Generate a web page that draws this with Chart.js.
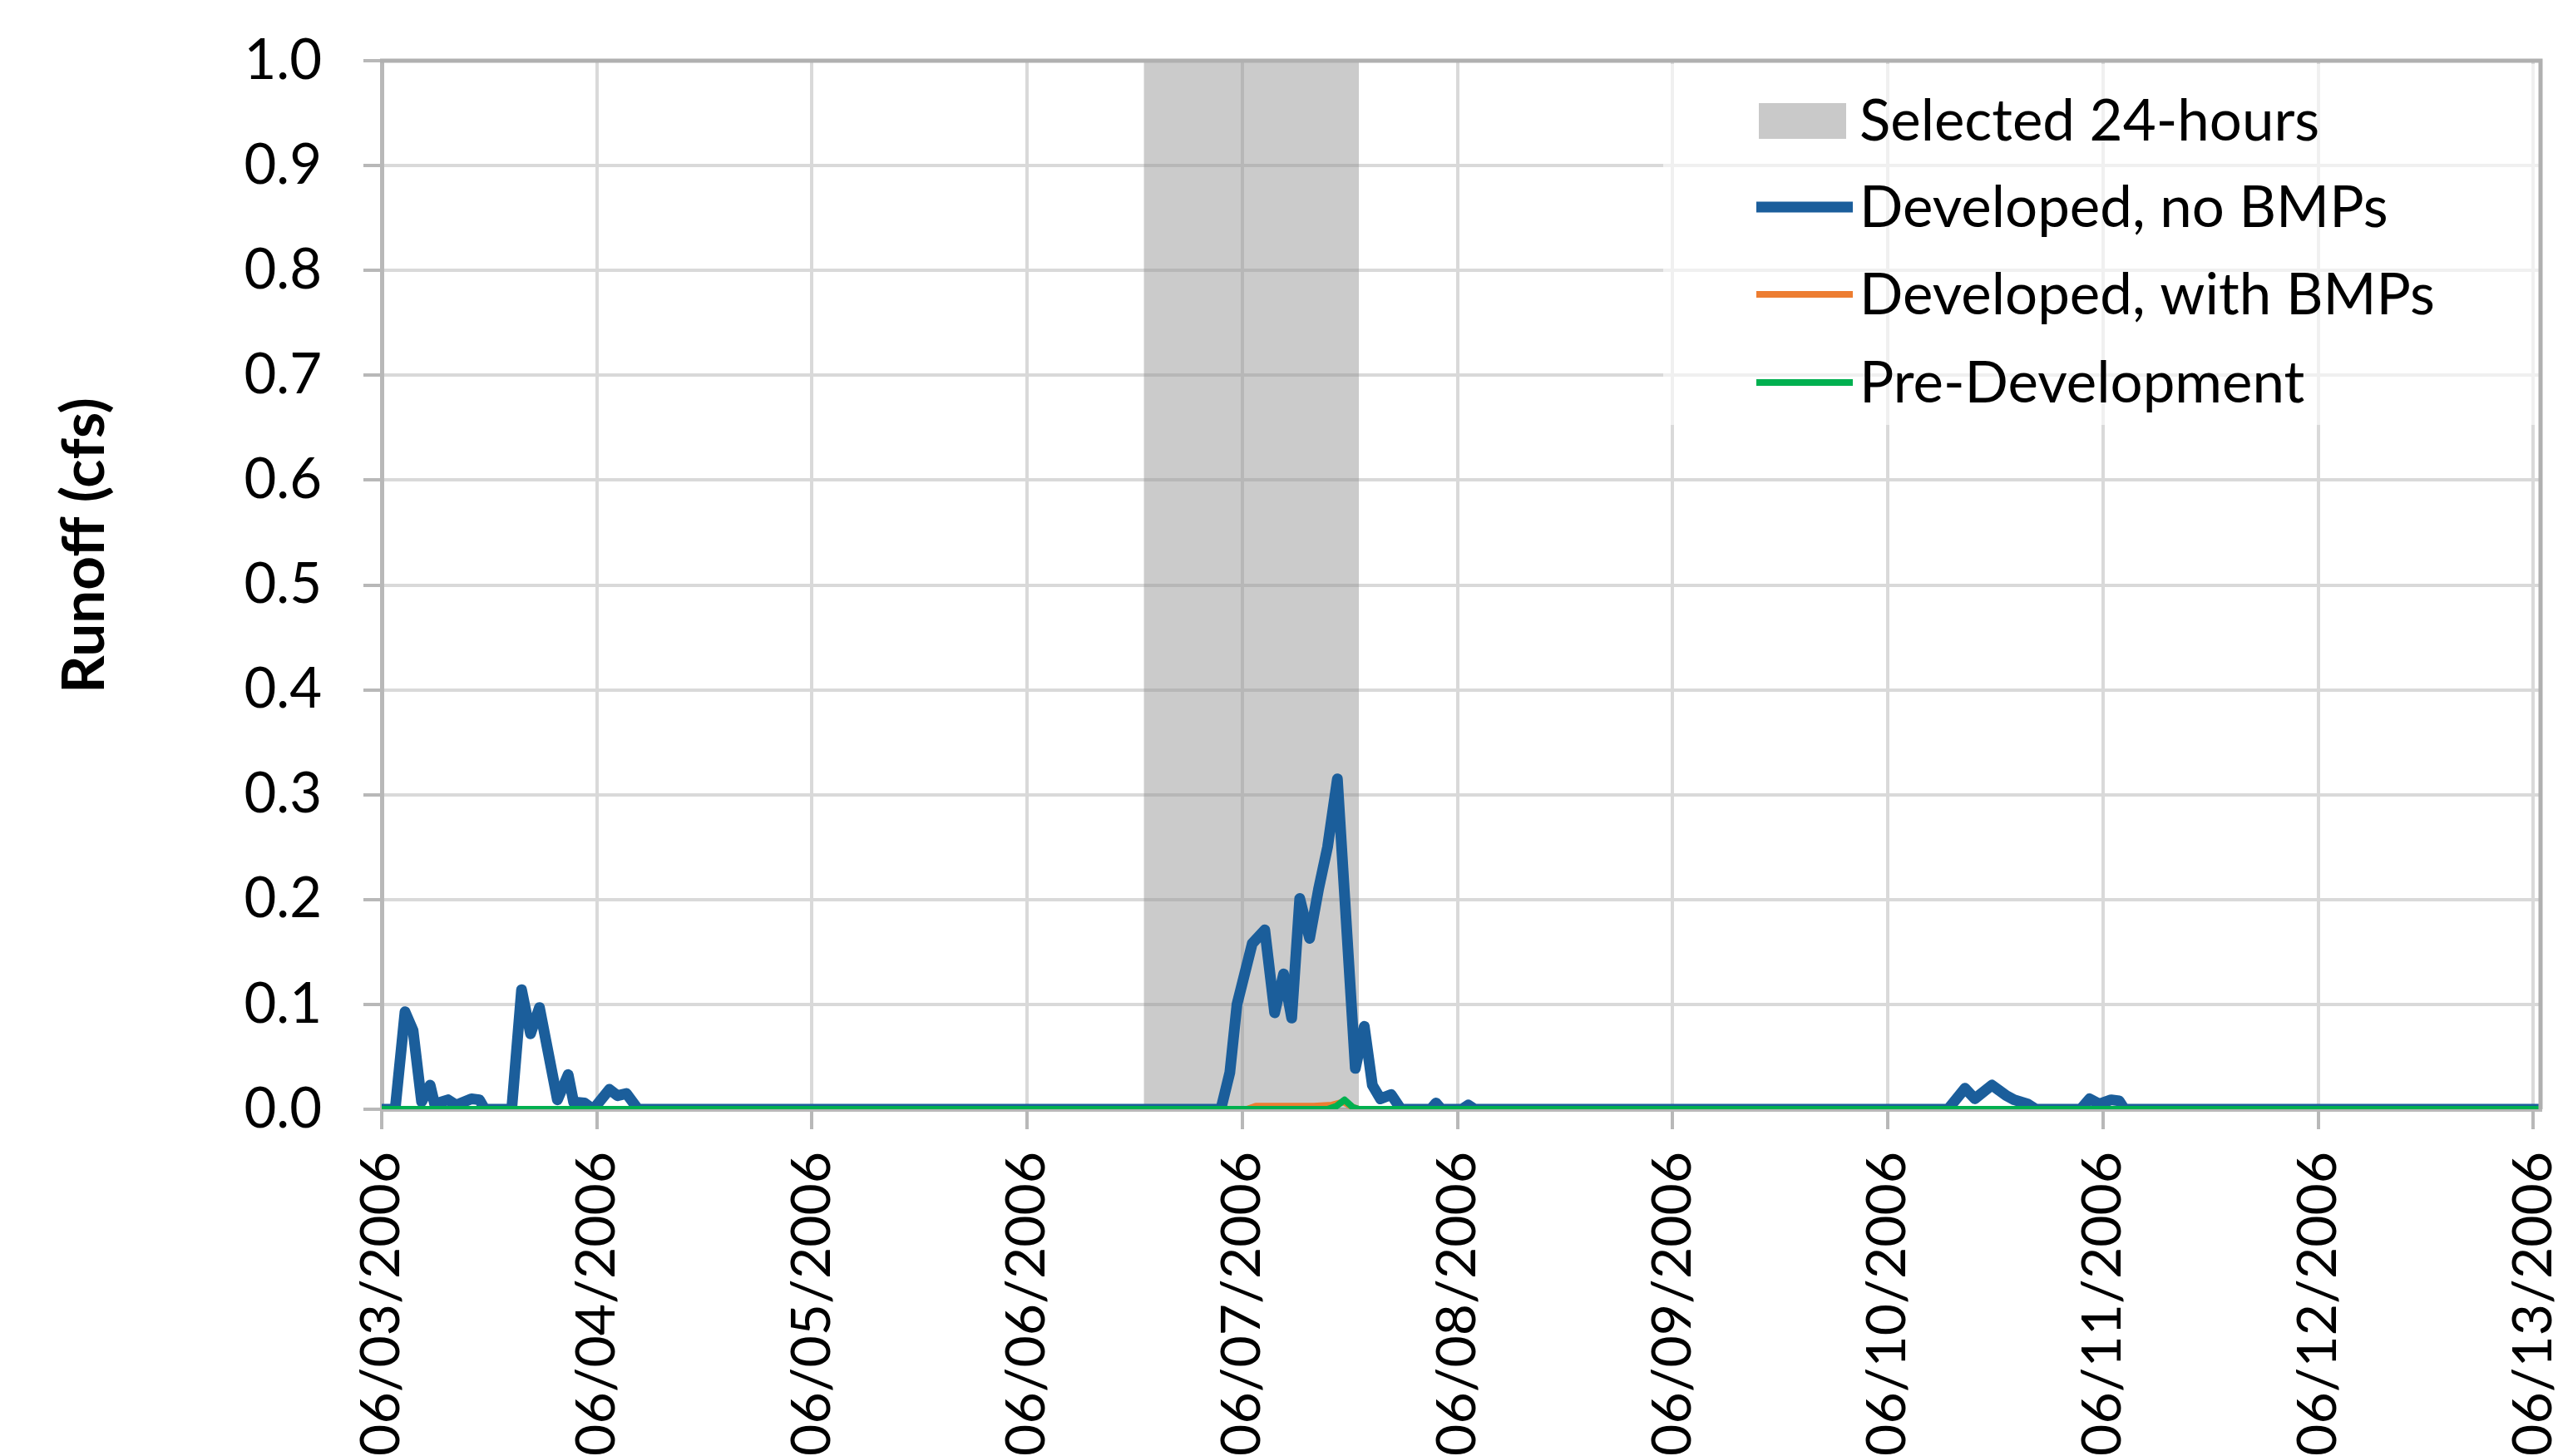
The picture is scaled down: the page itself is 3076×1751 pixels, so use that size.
<!DOCTYPE html>
<html><head><meta charset="utf-8">
<script src="https://cdn.jsdelivr.net/npm/chart.js@4.4.1/dist/chart.umd.min.js"></script>
<style>html,body{margin:0;padding:0;background:#fff;overflow:hidden}canvas{display:block}</style>
</head><body>
<canvas id="c" width="3076" height="1751"></canvas>
<script>
// ---- data (hours since 06/03/2006 00:00) ----
const tickLabels = ['06/03/2006','06/04/2006','06/05/2006','06/06/2006','06/07/2006','06/08/2006','06/09/2006','06/10/2006','06/11/2006','06/12/2006','06/13/2006'];
const tickHours = [0,24,48,72,96,120,144,168,192,216,240];
const yTicks = [0,0.1,0.2,0.3,0.4,0.5,0.6,0.7,0.8,0.9,1.0];
const xMaxHours = 240.8;

const selectedHours = [85,109];
const selectedValues = [1,1];

const devNoBmpHours = [0,1.5,2.6,3.5,4.45,5.4,5.9,7.4,8.3,10.0,10.9,11.5,14.5,15.6,16.6,17.6,19.6,20.8,21.4,22.6,23.6,25.4,26.3,27.3,28.6,
  93.6,94.6,95.4,97.1,98.5,99.6,100.6,101.5,102.4,103.5,104.5,105.5,106.6,108.6,109.6,110.5,111.4,112.6,113.7,
  117.0,117.6,118.2,120.5,121.2,121.9,
  174.7,176.6,177.7,179.6,181.2,182.1,183.6,184.5,189.5,190.5,191.6,192.9,193.8,194.4,240.8];
const devNoBmpValues = [0,0,0.093,0.075,0.007,0.023,0.005,0.009,0.004,0.010,0.009,0,0,0.114,0.072,0.097,0.009,0.033,0.007,0.006,0,0.019,0.013,0.015,0,
  0,0.035,0.100,0.158,0.171,0.092,0.129,0.087,0.201,0.163,0.210,0.250,0.315,0.039,0.079,0.023,0.010,0.014,0,
  0,0.006,0,0,0.004,0,
  0,0.020,0.010,0.023,0.013,0.009,0.005,0,0,0.010,0.005,0.009,0.008,0,0];

const devBmpHours = [0,96.5,97.5,104.0,106.0,107.3,108.3,109.0,240.8];
const devBmpValues = [0,0,0.003,0.003,0.004,0.007,0.002,0,0];

const preDevHours = [0,105.5,106.5,107.4,108.3,109.0,240.8];
const preDevValues = [0,0,0.003,0.009,0.002,0,0];

// ---- helpers ----
const FONT = "Lato, 'Open Sans', 'DejaVu Sans', sans-serif";
const pts = (xs, ys) => xs.map((x, i) => ({x: x, y: ys[i]}));

const customPlugin = {
  id: 'custom',
  beforeDatasetsDraw(chart) {
    const c = chart.ctx;
    c.save();
    c.fillStyle = 'rgba(255,255,255,0.6)';
    c.fillRect(2000, 77, 1053, 434);
    c.restore();
  },
  afterDatasetsDraw(chart) {
    const c = chart.ctx, a = chart.chartArea;
    c.save();
    // top & right border
    c.strokeStyle = '#b0b0b0';
    c.lineWidth = 5;
    c.beginPath();
    c.moveTo(a.left - 2, a.top);
    c.lineTo(a.right, a.top);
    c.lineTo(a.right, a.bottom);
    c.stroke();

    // legend
    const ds = chart.data.datasets;
    const rowY = [145, 249, 354, 460];
    c.font = '69px ' + FONT;
    c.textBaseline = 'middle';
    c.textAlign = 'left';
    ds.forEach((d, i) => {
      const y = rowY[i];
      if (d.fill) {
        c.fillStyle = d.legendColor;
        c.fillRect(2115, y - 21, 105, 43);
      } else {
        c.strokeStyle = d.borderColor;
        c.lineWidth = d.borderWidth;
        c.lineCap = 'butt';
        c.beginPath();
        c.moveTo(2112, y);
        c.lineTo(2228, y);
        c.stroke();
      }
      c.fillStyle = '#000';
      c.fillText(d.label, 2236, y + 2);
    });

    // y-axis title
    c.translate(102, 656);
    c.rotate(-Math.PI / 2);
    c.font = 'bold 71px ' + FONT;
    c.textAlign = 'center';
    c.textBaseline = 'middle';
    c.fillStyle = '#000';
    c.fillText('Runoff (cfs)', 0, 0);
    c.restore();
  }
};

new Chart(document.getElementById('c'), {
  type: 'line',
  data: {
    datasets: [
      {label: 'Selected 24-hours', data: pts(selectedHours, selectedValues), fill: 'origin',
       backgroundColor: 'rgba(145,145,145,0.47)', legendColor: '#c9c9c9', borderWidth: 0, borderColor: 'rgba(0,0,0,0)', pointRadius: 0, order: 4},
      {label: 'Developed, no BMPs', data: pts(devNoBmpHours, devNoBmpValues), fill: false,
       borderColor: '#1b5e9b', borderWidth: 13, pointRadius: 0, borderJoinStyle: 'round', borderCapStyle: 'round', tension: 0, order: 3},
      {label: 'Developed, with BMPs', data: pts(devBmpHours, devBmpValues), fill: false,
       borderColor: '#ed7d31', borderWidth: 8, pointRadius: 0, borderJoinStyle: 'round', tension: 0, order: 2},
      {label: 'Pre-Development', data: pts(preDevHours, preDevValues), fill: false,
       borderColor: '#00b050', borderWidth: 8, pointRadius: 0, borderJoinStyle: 'round', tension: 0, order: 1}
    ]
  },
  options: {
    responsive: false,
    animation: false,
    devicePixelRatio: 1,
    layout: {padding: {left: 0, top: 73, right: 21, bottom: 0}},
    plugins: {legend: {display: false}, tooltip: {enabled: false}},
    scales: {
      x: {
        type: 'linear', min: 0, max: xMaxHours,
        afterBuildTicks: s => { s.ticks = tickHours.map(v => ({value: v})); },
        ticks: {
          autoSkip: false, minRotation: 90, maxRotation: 90, padding: 27, color: '#000',
          font: {family: FONT, size: 66},
          callback: v => { const i = tickHours.indexOf(v); return i >= 0 ? tickLabels[i] : ''; }
        },
        grid: {color: '#d9d9d9', lineWidth: 4, tickLength: 24, tickColor: '#b8b8b8', tickWidth: 4},
        border: {color: '#b8b8b8', width: 5},
        afterFit: s => { s.height = 417; s.paddingLeft = 0; s.paddingRight = 0; }
      },
      y: {
        min: 0, max: 1,
        afterBuildTicks: s => { s.ticks = yTicks.map(v => ({value: v})); },
        ticks: {padding: 50, color: '#000', font: {family: FONT, size: 67}, callback: v => v.toFixed(1)},
        grid: {color: '#d9d9d9', lineWidth: 4, tickLength: 22, tickColor: '#b8b8b8', tickWidth: 4},
        border: {color: '#b8b8b8', width: 5},
        afterFit: s => { s.width = 459; s.paddingTop = 0; s.paddingBottom = 0; }
      }
    }
  },
  plugins: [customPlugin]
});
</script>
</body></html>
